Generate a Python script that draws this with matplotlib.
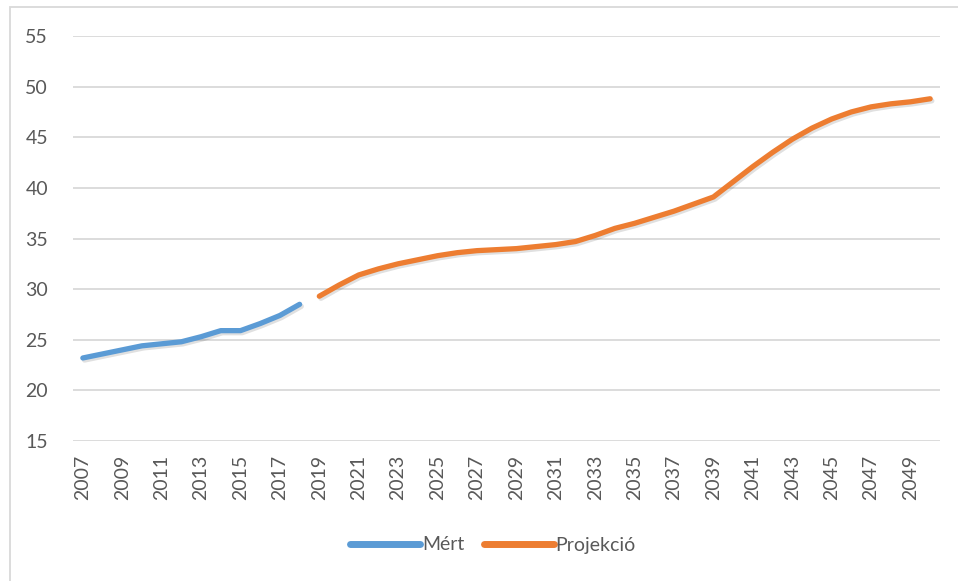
import matplotlib.pyplot as plt
import matplotlib.patheffects as pe
from matplotlib.patches import Rectangle

plt.rcParams['font.family'] = ['Lato', 'DejaVu Sans']

# years on the category axis
years = list(range(2007, 2051))

# measured values (2007-2018)
mert_years = list(range(2007, 2019))
mert = [23.2, 23.6, 24.0, 24.4, 24.6, 24.8, 25.3, 25.9, 25.9, 26.6, 27.4, 28.5]

# projection (2019-2050)
proj_years = list(range(2019, 2051))
projekcio = [29.3, 30.4, 31.4, 32.0, 32.5, 32.9, 33.3, 33.6, 33.8, 33.9,
             34.0, 34.2, 34.4, 34.7, 35.3, 36.0, 36.5, 37.1, 37.7, 38.4,
             39.1, 40.6, 42.1, 43.5, 44.8, 45.9, 46.8, 47.5, 48.0, 48.3,
             48.5, 48.8]

tick_labels = [str(y) for y in years[::2]]

fig = plt.figure(figsize=(9.58, 5.81), dpi=100)
ax = fig.add_axes([73 / 958, 1 - 441 / 581, 867 / 958, 405 / 581])

# chart border (cut off on the right and bottom like the original)
fig.patches.append(Rectangle((10 / 958, -0.1), 1.2, 1 - 7 / 581 + 0.1,
                             transform=fig.transFigure, fill=False,
                             edgecolor='#D9D9D9', linewidth=1.3))

shadow = [pe.SimpleLineShadow(offset=(1.2, -1.5), alpha=0.12, shadow_color='black'), pe.Normal()]

x_m = [years.index(y) for y in mert_years]
x_p = [years.index(y) for y in proj_years]
ax.plot(x_m, mert, color='#5B9BD5', lw=3.8, solid_capstyle='round',
        solid_joinstyle='round', label='Mért', path_effects=shadow, zorder=3)
ax.plot(x_p, projekcio, color='#ED7D31', lw=3.8, solid_capstyle='round',
        solid_joinstyle='round', label='Projekció', path_effects=shadow, zorder=3)

ax.set_xlim(-0.5, len(years) - 0.5)
ax.set_ylim(15, 55)
ax.set_yticks(range(15, 56, 5))
ax.set_xticks(range(0, len(years), 2))
ax.set_xticklabels(tick_labels, rotation=90)
ax.tick_params(axis='both', length=0, labelsize=14, colors='#595959')
ax.tick_params(axis='y', pad=18)
ax.tick_params(axis='x', pad=10)
ax.grid(axis='y', color='#D9D9D9', lw=1.3)
ax.set_axisbelow(True)
for s in ax.spines.values():
    s.set_visible(False)

leg = fig.legend(loc='center', bbox_to_anchor=(493 / 958, 1 - 545 / 581), ncol=2,
                 frameon=False, fontsize=14, handlelength=3.6, columnspacing=1.0,
                 handletextpad=0.1, labelcolor='#595959')
for h in leg.get_lines():
    h.set_linewidth(5)
    h.set_path_effects([])

fig.savefig('out.png', dpi=100)
